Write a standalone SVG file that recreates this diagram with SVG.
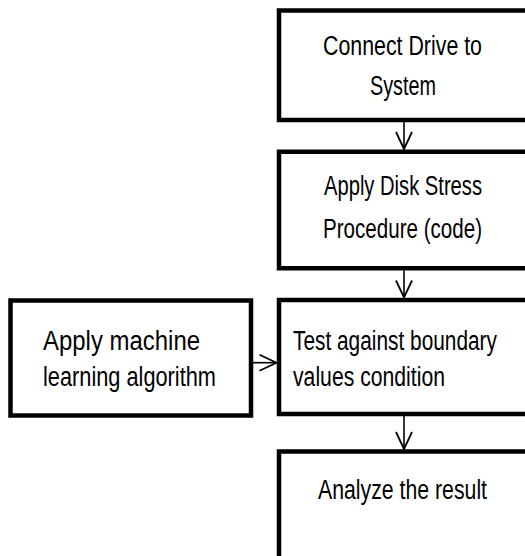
<svg xmlns="http://www.w3.org/2000/svg" width="525" height="556" viewBox="0 0 525 556">
  <style>
    .box { fill: #ffffff; stroke: #000000; stroke-width: 4.5; }
    .lbl { font-family: "Liberation Sans", Arial, sans-serif; font-size: 28px; fill: #000000; }
    .wire { fill: none; stroke: #000000; stroke-width: 1.6; }
  </style>
  <defs>
    <marker id="vhead" viewBox="0 0 20 20" refX="18" refY="10" markerWidth="20" markerHeight="20" markerUnits="userSpaceOnUse" orient="auto">
      <path d="M1,2 L18,10 L1,18" fill="none" stroke="#000000" stroke-width="1.8"/>
    </marker>
  </defs>
  <rect width="525" height="556" fill="#ffffff"/>

  <!-- labels use a narrowed sans: each line is squeezed horizontally by 0.76 -->
  <!-- the right-hand column of boxes runs off the right edge, so only three sides are drawn -->
  <g id="connect-drive">
    <path class="box" d="M525,10.5 H279 V120 H525"/>
    <text class="lbl" transform="translate(323,55) scale(0.76,1)" textLength="209.2" lengthAdjust="spacingAndGlyphs">Connect Drive to</text>
    <text class="lbl" transform="translate(370,95) scale(0.76,1)" textLength="86.8" lengthAdjust="spacingAndGlyphs">System</text>
  </g>

  <g id="disk-stress">
    <path class="box" d="M525,151.7 H279 V268.3 H525"/>
    <text class="lbl" transform="translate(324,195) scale(0.76,1)" textLength="207.9" lengthAdjust="spacingAndGlyphs">Apply Disk Stress</text>
    <text class="lbl" transform="translate(323,238) scale(0.76,1)" textLength="209.2" lengthAdjust="spacingAndGlyphs">Procedure (code)</text>
  </g>

  <g id="ml-algorithm">
    <rect class="box" x="10.5" y="300.5" width="240.5" height="115"/>
    <text class="lbl" transform="translate(43,350) scale(0.76,1)" textLength="206.6" lengthAdjust="spacingAndGlyphs">Apply machine</text>
    <text class="lbl" transform="translate(43,386) scale(0.76,1)" textLength="227.6" lengthAdjust="spacingAndGlyphs">learning algorithm</text>
  </g>

  <g id="boundary-test">
    <path class="box" d="M525,300 H279 V414 H525"/>
    <text class="lbl" transform="translate(293,350) scale(0.76,1)" textLength="268.4" lengthAdjust="spacingAndGlyphs">Test against boundary</text>
    <text class="lbl" transform="translate(293,386) scale(0.76,1)" textLength="200" lengthAdjust="spacingAndGlyphs">values condition</text>
  </g>

  <g id="analyze">
    <path class="box" d="M525,451.5 H279 V556"/>
    <text class="lbl" transform="translate(318,499) scale(0.76,1)" textLength="222.4" lengthAdjust="spacingAndGlyphs">Analyze the result</text>
  </g>

  <g id="connectors">
    <path class="wire" d="M404,122 L404,149" marker-end="url(#vhead)"/>
    <path class="wire" d="M404,270.5 L404,297.5" marker-end="url(#vhead)"/>
    <path class="wire" d="M404,416 L404,449" marker-end="url(#vhead)"/>
    <path class="wire" d="M253,362.7 L276.5,362.7" marker-end="url(#vhead)"/>
  </g>
</svg>
